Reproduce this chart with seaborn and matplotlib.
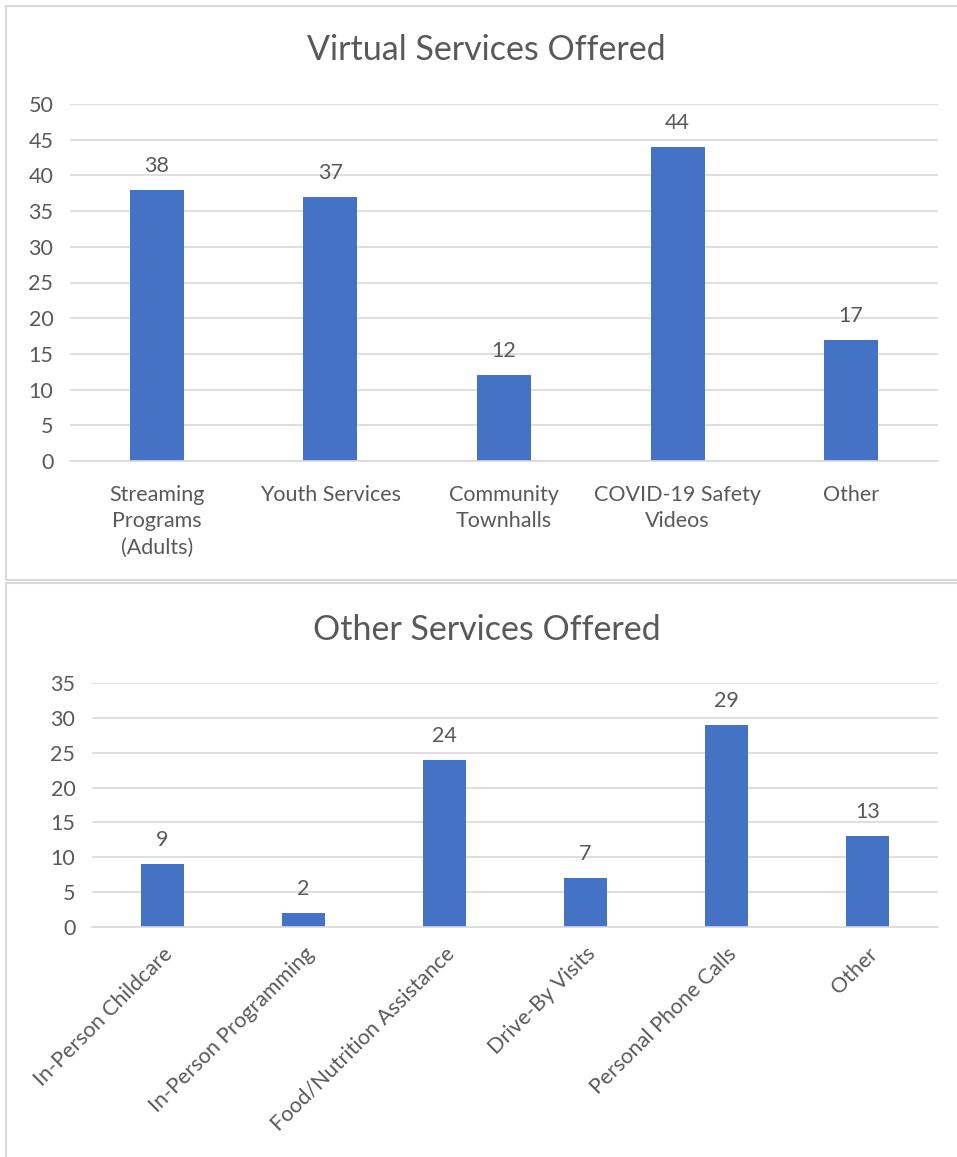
import matplotlib
matplotlib.use("Agg")
import pandas as pd
import seaborn as sns
import matplotlib.pyplot as plt
from matplotlib.patches import Rectangle

# Data
virtual_services = ["Streaming\nPrograms\n(Adults)", "Youth Services", "Community\nTownhalls",
                    "COVID-19 Safety\nVideos", "Other"]
virtual_counts = [38, 37, 12, 44, 17]

other_services = ["In-Person Childcare", "In-Person Programming", "Food/Nutrition Assistance",
                  "Drive-By Visits", "Personal Phone Calls", "Other"]
other_counts = [9, 2, 24, 7, 29, 13]

BAR = "#4472C4"
TXT = "#595959"
GRID = "#D9D9D9"

sns.set_style("white")
plt.rcParams['font.family'] = ['Lato', 'DejaVu Sans']

W, H = 957, 1157
fig = plt.figure(figsize=(W / 100, H / 100), dpi=100)


def px_axes(left, top, right, bottom):
    return fig.add_axes([left / W, 1 - bottom / H, (right - left) / W, (bottom - top) / H])


# panel frames
for (y0, y1) in [(6, 580), (583, 1160)]:
    fig.patches.append(Rectangle((6 / W, 1 - y1 / H), (960 - 6) / W, (y1 - y0) / H,
                                 transform=fig.transFigure, fill=False,
                                 edgecolor="#D9D9D9", linewidth=1.5))


def style_axes(ax, ymax, step):
    ax.set_ylim(0, ymax)
    ax.set_yticks(range(0, ymax + 1, step))
    ax.grid(axis="y", color=GRID, linewidth=1.2)
    ax.set_axisbelow(True)
    for s in ["top", "right", "left"]:
        ax.spines[s].set_visible(False)
    ax.spines["bottom"].set_color(GRID)
    ax.spines["bottom"].set_linewidth(1.2)
    ax.tick_params(axis="both", length=0, labelsize=15.5, labelcolor=TXT, pad=12)
    ax.set_xlabel("")
    ax.set_ylabel("")


# Top chart
ax1 = px_axes(70, 104, 938, 461)
df1 = pd.DataFrame({"service": virtual_services, "count": virtual_counts})
sns.barplot(data=df1, x="service", y="count", color=BAR, width=0.31, saturation=1,
            linewidth=0, ax=ax1)
style_axes(ax1, 50, 5)
ax1.bar_label(ax1.containers[0], padding=10, fontsize=15.5, color=TXT)
ax1.tick_params(axis="x", pad=17)
for lbl in ax1.get_xticklabels():
    lbl.set_linespacing(1.42)
fig.text(486 / W, 1 - 50 / H, "Virtual Services Offered", fontsize=24.5, color=TXT,
         ha="center", va="center")

# Bottom chart
ax2 = px_axes(92, 683, 938, 927)
df2 = pd.DataFrame({"service": other_services, "count": other_counts})
sns.barplot(data=df2, x="service", y="count", color=BAR, width=0.31, saturation=1,
            linewidth=0, ax=ax2)
style_axes(ax2, 35, 5)
ax2.bar_label(ax2.containers[0], padding=10, fontsize=15.5, color=TXT)
ax2.set_xticks(range(len(other_services)))
ax2.set_xticklabels(other_services, rotation=45, ha="right", rotation_mode="anchor")
ax2.tick_params(axis="x", pad=12)
fig.text(487 / W, 1 - 630 / H, "Other Services Offered", fontsize=24.5, color=TXT,
         ha="center", va="center")

fig.savefig("out.png", dpi=100)
